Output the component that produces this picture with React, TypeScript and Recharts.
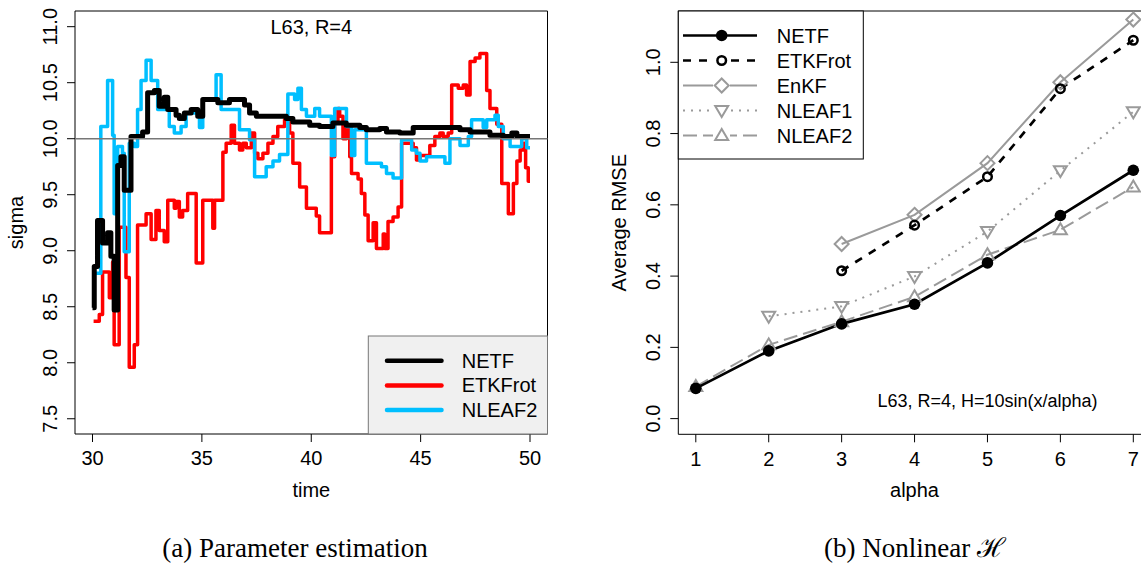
import { LineChart, Line, XAxis, YAxis, ReferenceLine, ReferenceArea } from 'recharts';

const FONT = '"Liberation Sans", Arial, Helvetica, sans-serif';
const SERIF = '"Liberation Serif", "Times New Roman", serif';

// ---- panel (a): parameter estimation, step series ----
const netfTime = [30.0, 30.08, 30.23, 30.46, 30.69, 30.84, 30.99, 31.15, 31.3, 31.45, 31.76, 32.29, 32.52, 32.83, 33.05, 33.28, 33.44, 33.82, 33.97, 34.2, 34.51, 34.81, 35.04, 35.73, 36.26, 36.95, 37.18, 37.49, 38.86, 39.16, 39.93, 40.38, 40.99, 41.6, 42.22, 42.52, 43.13, 43.44, 44.05, 44.66, 46.8, 47.26, 48.17, 48.78, 49.17, 49.4, 50.0];
const netfSigma = [8.49, 8.86, 9.27, 9.07, 9.16, 8.95, 8.47, 9.76, 9.84, 9.54, 10.02, 10.06, 10.41, 10.43, 10.29, 10.37, 10.26, 10.21, 10.18, 10.23, 10.26, 10.2, 10.35, 10.32, 10.35, 10.3, 10.23, 10.2, 10.18, 10.15, 10.12, 10.11, 10.14, 10.12, 10.1, 10.08, 10.09, 10.06, 10.05, 10.1, 10.08, 10.06, 10.03, 10.02, 10.05, 10.02, 10.02];

const etkfTime = [30.05, 30.31, 30.46, 30.77, 30.92, 30.99, 31.22, 31.53, 31.68, 31.91, 32.06, 32.45, 32.68, 32.9, 33.05, 33.28, 33.44, 33.74, 33.82, 33.97, 34.12, 34.35, 34.74, 35.04, 35.5, 35.58, 35.96, 36.11, 36.34, 36.49, 36.72, 36.87, 37.03, 37.26, 37.41, 37.56, 37.79, 38.02, 38.25, 38.47, 38.78, 39.01, 39.16, 39.47, 39.78, 40.23, 40.38, 40.92, 41.07, 41.22, 41.3, 41.45, 41.61, 41.76, 41.84, 42.14, 42.29, 42.45, 42.6, 42.83, 42.98, 43.29, 43.36, 43.51, 43.74, 43.97, 44.13, 44.66, 44.81, 44.97, 45.42, 45.65, 45.88, 46.03, 46.26, 46.42, 46.72, 46.95, 47.1, 47.26, 47.49, 47.71, 48.02, 48.17, 48.48, 48.71, 49.01, 49.24, 49.4, 49.55, 49.7, 49.8, 49.92, 50.0];
const etkfSigma = [8.37, 8.43, 8.81, 8.58, 8.9, 8.16, 9.21, 8.76, 7.96, 8.16, 9.23, 9.33, 9.1, 9.36, 9.18, 9.08, 9.45, 9.38, 9.44, 9.3, 9.36, 9.51, 8.89, 9.45, 9.2, 9.45, 9.88, 9.96, 10.12, 9.96, 9.9, 9.96, 9.92, 10.05, 9.87, 9.82, 9.87, 9.96, 10.02, 10.11, 10.17, 10.05, 9.78, 9.57, 9.38, 9.31, 9.16, 9.84, 10.14, 10.27, 10.2, 10.0, 10.11, 9.84, 9.69, 9.64, 9.51, 9.32, 9.09, 9.25, 9.02, 9.15, 9.02, 9.26, 9.3, 9.39, 9.96, 9.92, 9.81, 9.85, 9.94, 10.02, 10.05, 10.02, 10.05, 10.48, 10.45, 10.48, 10.39, 10.69, 10.72, 10.76, 10.43, 10.27, 10.13, 9.6, 9.33, 9.6, 9.8, 9.9, 9.96, 9.74, 9.62, 9.62];

const nleafTime = [30.05, 30.38, 30.69, 30.92, 30.99, 31.15, 31.37, 31.45, 31.68, 31.91, 32.06, 32.22, 32.45, 32.68, 32.98, 33.51, 33.74, 34.05, 34.28, 34.89, 35.04, 35.65, 35.88, 36.72, 37.18, 37.41, 37.94, 38.25, 38.55, 38.93, 39.24, 39.39, 39.55, 39.78, 40.16, 40.38, 40.92, 41.07, 41.61, 41.84, 41.99, 42.52, 43.21, 43.44, 43.74, 44.13, 44.59, 44.81, 44.97, 45.27, 46.11, 46.34, 46.8, 47.18, 47.33, 47.86, 48.02, 48.4, 48.55, 48.78, 49.09, 49.62, 49.85, 50.0];
const nleafSigma = [8.8, 10.11, 10.52, 10.03, 9.33, 9.93, 9.87, 8.99, 9.96, 9.93, 10.26, 10.52, 10.7, 10.52, 10.26, 10.11, 10.05, 10.11, 10.23, 10.1, 10.35, 10.57, 10.26, 10.08, 9.99, 9.66, 9.75, 9.8, 9.86, 10.4, 10.35, 10.45, 10.26, 10.2, 10.27, 10.2, 9.85, 10.27, 10.11, 9.85, 10.08, 9.78, 9.75, 9.69, 9.65, 9.99, 9.9, 9.87, 9.8, 9.84, 9.78, 10.0, 9.94, 10.02, 10.17, 10.1, 10.17, 10.21, 10.11, 10.0, 9.93, 10.0, 9.92, 9.92];

const timeTicks = [30, 35, 40, 45, 50];
const sigmaTicks = [7.5, 8, 8.5, 9, 9.5, 10, 10.5, 11];

// ---- panel (b): nonlinear H ----
const alphaValues = [1, 2, 3, 4, 5, 6, 7];
const netfRmse = [0.085, 0.19, 0.266, 0.321, 0.437, 0.57, 0.697];
const etkfRmse = [null, null, 0.415, 0.543, 0.679, 0.926, 1.062];
const enkfRmse = [null, null, 0.49, 0.572, 0.717, 0.944, 1.12];
const nleaf1Rmse = [null, 0.287, 0.315, 0.399, 0.525, 0.696, 0.861];
const nleaf2Rmse = [0.09, 0.207, 0.272, 0.342, 0.46, 0.53, 0.65];
const rmseTicks = [0, 0.2, 0.4, 0.6, 0.8, 1.0];

const toPoints = (ts: number[], vs: number[]) => ts.map((t, i) => ({ t, v: vs[i] }));

const rmseData = alphaValues.map((a, i) => ({
  alpha: a,
  netf: netfRmse[i],
  etkf: etkfRmse[i],
  enkf: enkfRmse[i],
  nleaf1: nleaf1Rmse[i],
  nleaf2: nleaf2Rmse[i],
}));

const GRAY = '#9a9a9a';
const BLUE = '#00bfff';

const leftSeries = [
  { name: 'NETF', color: '#000', width: 4.5 },
  { name: 'ETKFrot', color: '#ff0000', width: 4.5 },
  { name: 'NLEAF2', color: BLUE, width: 4.5 },
];

const rightSeries = [
  { key: 'netf', name: 'NETF', color: '#000', width: 2.7, dash: undefined, kind: 'filled' },
  { key: 'etkf', name: 'ETKFrot', color: '#000', width: 2.7, dash: '8 8', kind: 'open' },
  { key: 'enkf', name: 'EnKF', color: GRAY, width: 2, dash: undefined, kind: 'diamond' },
  { key: 'nleaf1', name: 'NLEAF1', color: GRAY, width: 2, dash: '2 6', kind: 'down' },
  { key: 'nleaf2', name: 'NLEAF2', color: GRAY, width: 2, dash: '14 6', kind: 'up' },
];

function marker(kind: string, cx: number, cy: number, color: string, key?: any) {
  switch (kind) {
    case 'filled':
      return <circle key={key} cx={cx} cy={cy} r={5.8} fill={color} />;
    case 'open':
      return <circle key={key} cx={cx} cy={cy} r={4.3} fill="none" stroke={color} strokeWidth={2.5} />;
    case 'diamond':
      return <polygon key={key} points={`${cx},${cy - 7} ${cx + 7},${cy} ${cx},${cy + 7} ${cx - 7},${cy}`} fill="none" stroke={color} strokeWidth={2} />;
    case 'down':
      return <polygon key={key} points={`${cx - 6.5},${cy - 4.5} ${cx + 6.5},${cy - 4.5} ${cx},${cy + 6.5}`} fill="none" stroke={color} strokeWidth={2} />;
    default:
      return <polygon key={key} points={`${cx - 6.5},${cy + 4.5} ${cx + 6.5},${cy + 4.5} ${cx},${cy - 6.5}`} fill="none" stroke={color} strokeWidth={2} />;
  }
}

const RotatedTick = ({ x, y, payload }: any) => (
  <text x={x} y={y} transform={`rotate(-90, ${x}, ${y})`} textAnchor="middle" fontSize={20} fill="#000">
    {Number(payload.value).toFixed(1)}
  </text>
);

export default function App() {
  return (
    <div style={{ position: 'absolute', left: 0, top: 0, width: 1141, height: 563, overflow: 'hidden', background: '#fff', fontFamily: FONT }}>
      {/* (a) */}
      <div style={{ position: 'absolute', left: 0, top: 0 }}>
        <LineChart width={560} height={563} margin={{ top: 11, right: 12.5, bottom: 89, left: 0 }}>
          <XAxis
            type="number" dataKey="t" domain={[29.2, 50.8]} ticks={timeTicks} interval={0}
            allowDataOverflow axisLine={false} stroke="#000" tickSize={8} tickMargin={9} height={40}
            tick={{ fontSize: 20, fill: '#000' }}
          />
          <YAxis
            type="number" domain={[7.364, 11.14]} ticks={sigmaTicks} interval={0}
            allowDataOverflow axisLine={false} stroke="#000" tickSize={8} tickMargin={10.3} width={75}
            tick={<RotatedTick />}
          />
          <ReferenceArea x1={29.2} x2={50.8} y1={7.364} y2={11.14} fill="none" stroke="#000" strokeWidth={1} ifOverflow="visible" />
          <Line data={toPoints(etkfTime, etkfSigma)} dataKey="v" type="stepAfter" stroke="#ff0000" strokeWidth={3.5} dot={false} activeDot={false} isAnimationActive={false} strokeLinejoin="round" />
          <Line data={toPoints(nleafTime, nleafSigma)} dataKey="v" type="stepAfter" stroke={BLUE} strokeWidth={3.5} dot={false} activeDot={false} isAnimationActive={false} strokeLinejoin="round" />
          <Line data={toPoints(netfTime, netfSigma)} dataKey="v" type="stepAfter" stroke="#000" strokeWidth={5} dot={false} activeDot={false} isAnimationActive={false} strokeLinejoin="round" />
          <ReferenceLine y={10} stroke="#777" strokeWidth={1.5} />
        </LineChart>
      </div>

      {/* (b) */}
      <div style={{ position: 'absolute', left: 560, top: 0 }}>
        <LineChart width={600} height={563} data={rmseData} margin={{ top: 11, right: 9.2, bottom: 88.7, left: 0 }}>
          <XAxis
            type="number" dataKey="alpha" domain={[0.76, 7.24]} ticks={alphaValues} interval={0}
            allowDataOverflow axisLine={false} stroke="#000" tickSize={8} tickMargin={9} height={40}
            tick={{ fontSize: 20, fill: '#000' }}
          />
          <YAxis
            type="number" domain={[-0.044, 1.144]} ticks={rmseTicks} interval={0}
            allowDataOverflow axisLine={false} stroke="#000" tickSize={8} tickMargin={10.3} width={118.3}
            tick={<RotatedTick />}
          />
          <ReferenceArea x1={0.76} x2={7.24} y1={-0.044} y2={1.144} fill="none" stroke="#000" strokeWidth={1} ifOverflow="visible" />
          {[2, 1, 3, 4, 0].map((idx) => {
            const s = rightSeries[idx];
            return (
              <Line
                key={s.key}
                dataKey={s.key}
                type="linear"
                stroke={s.color}
                strokeWidth={s.width}
                strokeDasharray={s.dash}
                connectNulls={false}
                isAnimationActive={false}
                activeDot={false}
                dot={(p: any) =>
                  p.value == null || p.cy == null
                    ? <g key={`${s.key}-${p.index}`} />
                    : marker(s.kind, p.cx, p.cy, s.color, `${s.key}-${p.index}`)
                }
              />
            );
          })}
        </LineChart>
      </div>

      {/* titles, annotations, legends */}
      <svg width={1141} height={563} style={{ position: 'absolute', left: 0, top: 0, pointerEvents: 'none' }}>
        <text x={22.7} y={222.5} transform="rotate(-90, 22.7, 222.5)" textAnchor="middle" fontSize={20}>sigma</text>
        <text x={311.3} y={497} textAnchor="middle" fontSize={20}>time</text>
        <text x={311.3} y={33.5} textAnchor="middle" fontSize={20}>L63, R=4</text>

        <rect x={368.3} y={336} width={179.2} height={98} fill="#f0f0f0" stroke="#777" strokeWidth={1} />
        {leftSeries.map((s, i) => (
          <g key={s.name}>
            <line x1={387} x2={441.5} y1={360.7 + i * 24.7} y2={360.7 + i * 24.7} stroke={s.color} strokeWidth={s.width} strokeLinecap="round" />
            <text x={461.7} y={367.7 + i * 24.7} fontSize={20}>{s.name}</text>
          </g>
        ))}

        <text x={626} y={222.7} transform="rotate(-90, 626, 222.7)" textAnchor="middle" fontSize={20}>Average RMSE</text>
        <text x={914.5} y={497} textAnchor="middle" fontSize={20}>alpha</text>
        <text x={987.5} y={406.5} textAnchor="middle" fontSize={18}>L63, R=4, H=10sin(x/alpha)</text>

        <rect x={678.3} y={11} width={185} height={148} fill="#fff" stroke="#000" strokeWidth={1} />
        {rightSeries.map((s, i) => {
          const y = 35.5 + i * 25;
          return (
            <g key={s.key}>
              <line x1={683} x2={757} y1={y} y2={y} stroke={s.color} strokeWidth={s.width} strokeDasharray={s.dash} />
              {s.kind === 'open' || s.kind === 'diamond' || s.kind === 'down' || s.kind === 'up'
                ? <rect x={713} y={y - 8} width={17} height={16} fill="#fff" />
                : null}
              {marker(s.kind, 721.7, y, s.color)}
              <text x={776.7} y={y + 7} fontSize={20}>{s.name}</text>
            </g>
          );
        })}

        <text x={295} y={557} textAnchor="middle" fontSize={27} fontFamily={SERIF}>(a) Parameter estimation</text>
        <text x={915} y={557} textAnchor="middle" fontSize={27} fontFamily={SERIF}>(b) Nonlinear ℋ</text>
      </svg>
    </div>
  );
}
